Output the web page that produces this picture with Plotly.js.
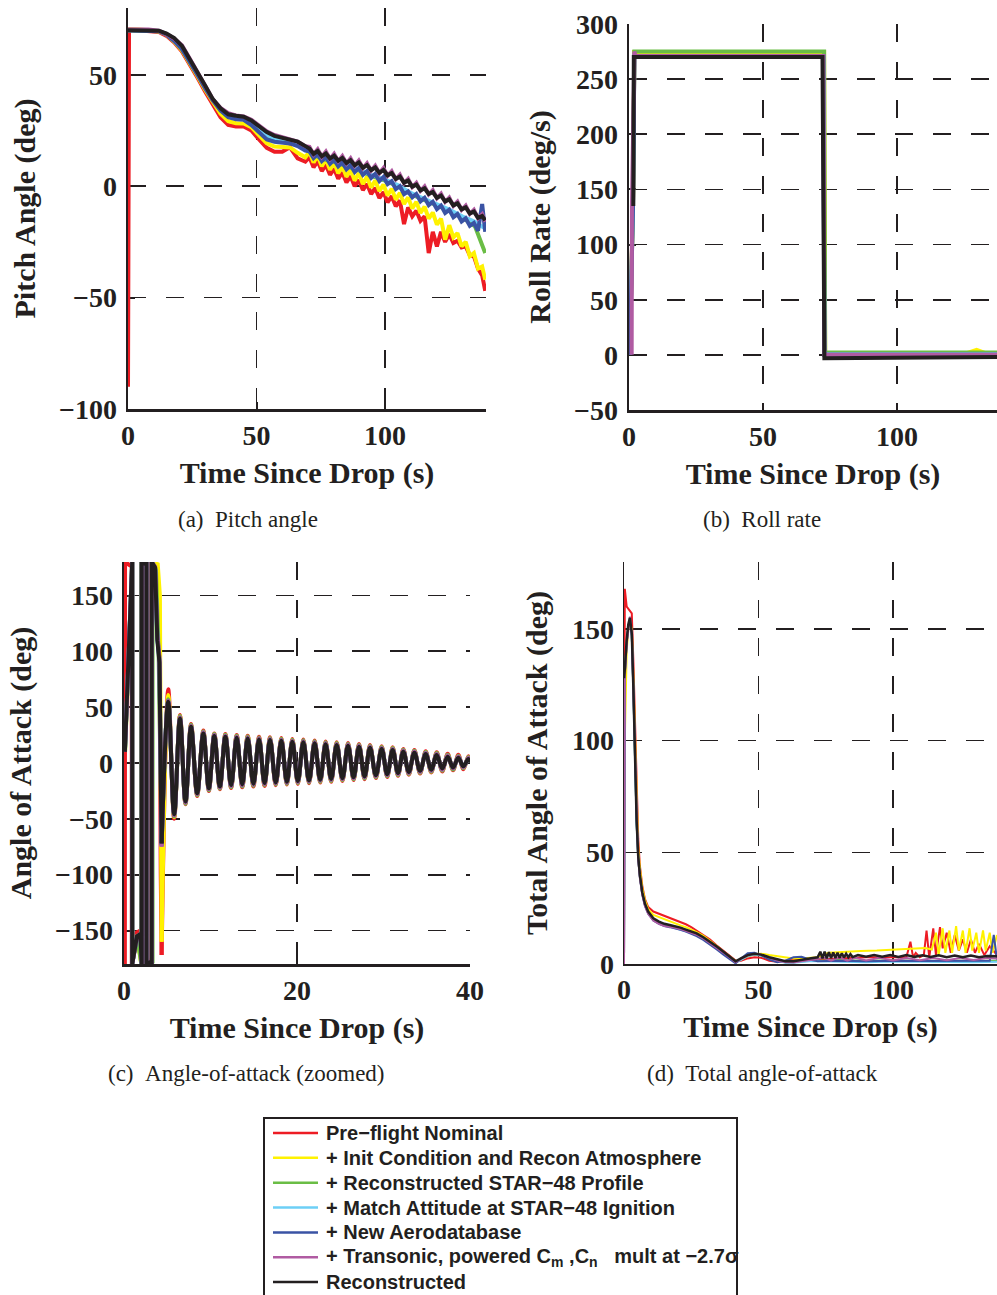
<!DOCTYPE html>
<html><head><meta charset="utf-8">
<script src="https://cdn.plot.ly/plotly-3.0.1.min.js"></script>
<style>html,body{margin:0;padding:0;background:#fff;}#chart{width:997px;height:1295px;}</style>
</head><body><div id="chart"></div>
<script>
// ---------- series names / colours ----------
const seriesNames = [
  'Pre\u2212flight Nominal',
  '+ Init Condition and Recon Atmosphere',
  '+ Reconstructed STAR\u221248 Profile',
  '+ Match Attitude at STAR\u221248 Ignition',
  '+ New Aerodatabase',
  '+ Transonic, powered C<sub>m</sub> ,C<sub>n</sub>\u00a0\u00a0 mult at \u22122.7\u03c3',
  'Reconstructed'
];
const seriesColors = ['#ed1c24', '#fff200', '#6abd45', '#6dcff6', '#3a53a4', '#b05ba2', '#231f20'];

// ---------- (a) pitch angle ----------
const pitchT = [0, 0.4, 4, 8, 12, 15, 18, 21, 24, 27, 30, 33, 36, 39, 42, 45, 48, 51, 54, 57, 60, 63, 66, 69,
  70.6, 72.2, 73.8, 75.4, 77.0, 78.6, 80.2, 81.8, 83.4, 85.0, 86.6, 88.2, 89.8, 91.4, 93.0, 94.6, 96.2, 97.8, 99.4,
  101.0, 102.6, 104.2, 105.8, 107.4, 109.0, 110.6, 112.2, 113.8, 115.4, 117.0, 118.6, 120.2, 121.8, 123.4, 125.0,
  126.6, 128.2, 129.8, 131.4, 133.0, 134.6, 136.2, 137.8, 139.0];
const pitchTSmooth = [0, 0.4, 4, 8, 12, 15, 18, 21, 24, 27, 30, 33, 36, 39, 42, 45, 48, 51, 54, 57, 60, 63, 66, 69,
  75, 80, 85, 90, 95, 100, 105, 110, 115, 120, 125, 130, 135, 139];
const pitchRed = [-90, 70, 70, 69.8, 69.2, 67.5, 64.5, 60.5, 55, 48.8, 42.5, 36.5, 31, 27.5, 26.8, 26.8, 25, 21, 17.2, 15.5, 15.5, 17.5, 12.5, 11,
  13.0, 8.5, 11.3, 6.8, 9.6, 5.1, 7.9, 3.4, 6.2, 1.7, 4.5, 0.0, 2.8, -1.7, 1.0, -3.5, -0.8, -5.3, -2.6, -7.2, -4.5, -9.0,
  -6.4, -17.0, -9.5, -13.5, -11.0, -15.5, -13.5, -30.0, -20.5, -27.0, -20.5, -25.0, -21.5, -25.5, -24.5, -27.5, -27.0,
  -31.0, -31.5, -37.0, -40.0, -47.0];
const pitchYellow = [70.5, 70.5, 70.3, 70, 69.5, 68, 65, 61, 55.5, 49.5, 43.3, 37.5, 32.5, 29.2, 28.3, 28.2, 26.5, 22.8, 19.3, 17.8, 17.5, 17.4, 15, 13,
  15.5, 10.6, 13.8, 9.0, 12.2, 7.4, 10.6, 5.8, 9.0, 4.2, 7.4, 2.6, 5.8, 1.0, 4.2, -0.6, 2.6, -2.2, 0.8, -4.2, -1.1, -6.0,
  -3.0, -8.0, -5.0, -10.0, -7.0, -12.0, -9.2, -14.5, -11.8, -17.2, -14.6, -24.0, -17.5, -23.0, -21.0, -27.0, -25.0,
  -31.5, -30.0, -37.0, -36.0, -42.0];
const pitchGreen = [70, 70, 70, 70, 69.6, 68.1, 65.1, 61.5, 56.2, 50.2, 44, 38.5, 34, 31.2, 30.4, 30.2, 28.2, 25, 22.2, 20.8, 20.2, 19.8, 18.5, 16.5,
  12.5, 11, 9, 7, 4.5, 2.5, 0, -3.5, -6, -8.5, -11, -14, -18, -30];
const pitchCyan = [70, 70, 70, 70, 69.7, 68.2, 65.3, 61.8, 56.5, 50.4, 44.3, 38.8, 34.5, 31.8, 31, 30.8, 28.8, 25.8, 23, 21.6, 20.8, 20.3, 19, 17,
  13, 11.5, 9.5, 7.5, 5, 3, 0.5, -3, -5.5, -8, -10.5, -13.5, -16, -19];
const pitchBlue = [70, 70, 70, 70, 69.6, 68, 65.2, 61.5, 56, 50, 44, 38.5, 34, 31, 30, 29.8, 27.5, 24, 21, 20, 19.5, 19.2, 18, 16,
  15.7, 12.6, 14.4, 11.3, 13.1, 10.1, 11.9, 8.9, 10.7, 7.6, 9.4, 6.4, 8.2, 5.1, 6.8, 3.8, 5.5, 2.3, 4.1, 0.9, 2.2, -1.3,
  0.0, -3.6, -2.4, -5.0, -3.5, -6.8, -5.2, -8.5, -7.0, -10.3, -8.7, -12.0, -10.6, -13.9, -12.5, -15.8, -14.4, -17.8,
  -16.5, -20.0, -8.0, -20.5];
const pitchMagenta = [70.5, 70.5, 70.5, 70.3, 69.8, 68.3, 66.2, 63.3, 57.3, 51, 44.8, 39, 35.2, 32.8, 31.8, 31.3, 29.8, 27.2, 24.6, 23, 22, 21.2, 20, 18,
  17.7, 14.3, 16.6, 13.2, 15.5, 12.2, 14.5, 11.2, 13.5, 10.2, 12.5, 9.2, 11.5, 8.1, 10.3, 7.0, 9.2, 5.8, 8.1, 4.7, 6.7,
  3.1, 5.1, 1.4, 3.3, -0.4, 1.5, -2.1, -0.1, -3.7, -1.8, -5.4, -3.4, -7.0, -5.1, -8.8, -6.9, -10.6, -8.7, -12.4, -10.6,
  -14.4, -12.6, -16.0];
const pitchBlack = [70, 70, 70, 70, 69.8, 68.5, 66.5, 63, 57.4, 51.2, 45.2, 39.1, 35, 32.3, 31.6, 31.2, 29.5, 26.8, 24.3, 22.6, 21.6, 21, 20, 18,
  16.9, 14.5, 15.8, 13.4, 14.7, 12.4, 13.7, 11.4, 12.7, 10.4, 11.7, 9.4, 10.7, 8.3, 9.5, 7.2, 8.4, 6.0, 7.3, 4.9, 5.9,
  3.3, 4.3, 1.6, 2.5, -0.2, 0.7, -1.9, -0.9, -3.5, -2.6, -5.2, -4.2, -6.8, -5.9, -8.6, -7.7, -10.4, -9.5, -12.2, -11.4,
  -14.2, -13.4, -15.3];

// ---------- (b) roll rate ----------
const rollRedT = [0.3, 1.5, 2.0, 72.6, 73.0, 137.3];
const rollRed = [0, 140, 274.5, 274.5, 1.0, 1.0];
const rollYellowT = [0.3, 1.5, 2.0, 72.8, 73.2, 126, 129.7, 133, 137.3];
const rollYellow = [0, 140, 274.5, 274.5, 1.5, 1.5, 4.5, 1.5, 1.5];
const rollGreenT = [0.3, 1.5, 2.0, 72.8, 73.2, 137.3];
const rollGreen = [0, 140, 275, 275, 2.2, 2.2];
const rollCyanT = [0.3, 1.5, 2.0, 72.5, 72.9, 137.3];
const rollCyan = [0, 138, 271, 271, 0.5, 0.5];
const rollBlueT = [0.3, 1.5, 2.0, 72.5, 72.9, 137.3];
const rollBlue = [0, 136, 270.5, 270.5, 0, 0];
const rollMagentaT = [1.0, 1.1, 2.0, 2.4, 72.5, 72.9, 137.3];
const rollMagenta = [0, 135, 275, 271, 271, 0, 0];
const rollBlackT = [1.6, 1.8, 72.2, 72.5, 72.9, 137.3];
const rollBlack = [135, 270, 270, 135, -3, -2];

// ---------- (c) angle of attack (zoomed) ----------
// tumbling phase (wrapping at +/-180)
const aoaEarlyRedT = [0.1, 0.12, 0.5, 0.9, 0.9, 1.4, 1.9, 2.0, 2.0, 2.55, 2.55, 3.1, 3.15, 3.15, 3.8, 4.1, 4.25, 4.35];
const aoaEarlyRed = [-180, 180, 178, 176, -180, -152, -150, -180, 180, 176, -180, -176, -180, 180, 172, 120, -100, -172];
const aoaEarlyYellowT = [0.12, 0.5, 0.95, 0.95, 1.5, 2.0, 2.0, 2.55, 2.6, 2.6, 3.15, 3.2, 3.2, 3.9, 4.15, 4.35];
const aoaEarlyYellow = [10, 100, 180, -180, -155, -180, 180, 178, 180, -180, -178, -180, 180, 178, 150, -160];
const aoaEarlyGreenT = [0.12, 0.5, 0.95, 0.95, 1.5, 2.0, 2.0, 2.55, 2.6, 2.6, 3.3, 3.3, 3.7, 4.0, 4.35];
const aoaEarlyGreen = [10, 96, 180, -180, -154, -180, 180, 178, 180, -180, -178, 180, 172, 100, -74];
const aoaEarlyT = [0.1, 0.5, 0.95, 0.95, 1.5, 1.9, 2.05, 2.05, 2.5, 2.6, 2.6, 3.1, 3.2, 3.2, 3.6, 3.85, 4.1, 4.35];
const aoaEarlyCyan = [10, 96, 180, -180, -155, -153, -180, 180, 178, 180, -180, -178, -180, 180, 175, 112, 92, -73];
const aoaEarlyBlue = [10, 95, 180, -180, -156, -154, -180, 180, 178, 180, -180, -178, -180, 180, 174, 113, 93, -73.5];
const aoaEarlyMagenta = [10, 95, 180, -180, -156, -154, -180, 180, 178, 180, -180, -178, -180, 180, 176, 115, 95, -75];
const aoaEarlyBlack = [10, 96, 180, -180, -155, -153, -180, 180, 178, 180, -180, -178, -180, 180, 175, 110, 90, -72];
// damped oscillation: successive troughs and peaks
const aoaT = [4.35, 5.12, 5.80, 6.47, 7.11, 7.75, 8.46, 9.17, 9.81, 10.44, 11.08, 11.72, 12.38, 13.03, 13.67, 14.30,
  14.96, 15.61, 16.25, 16.88, 17.54, 18.19, 18.83, 19.46, 20.10, 20.73, 21.39, 22.04, 22.68, 23.31, 23.95, 24.59,
  25.25, 25.90, 26.54, 27.17, 27.81, 28.44, 29.12, 29.79, 30.43, 31.06, 31.68, 32.29, 32.93, 33.57, 34.23, 34.88,
  35.52, 36.15, 36.79, 37.42, 38.04, 38.65, 39.23, 39.81, 40.0];
const aoaRed = [-172, 66, -50, 43, -37, 35, -29.5, 29, -25, 26.5, -23.5, 26, -22.3, 25, -21.7, 24.4, -21, 23.6, -20.5, 23,
  -19.9, 22.4, -19.3, 21.5, -18.7, 21, -18.1, 20.1, -17.5, 19.2, -16.8, 18.6, -16.1, 18, -15.3, 17.1, -14.5, 16.2,
  -13.5, 15, -12.5, 14.1, -11.5, 12.6, -10.5, 11.7, -9.5, 10.5, -8.5, 9.6, -7.5, 8.2, -6.5, 7.3, -5.5, 6.1, 1];
const aoaYellow = [-160, 61, -48.5, 42, -36, 34, -28.5, 28, -24, 25.5, -22.5, 25, -21.3, 24, -20.7, 23.4, -20, 22.6, -19.5, 22,
  -18.9, 21.4, -18.3, 20.5, -17.7, 20, -17.1, 19.1, -16.5, 18.2, -15.8, 17.6, -15.1, 17, -14.3, 16.1, -13.5, 15.2,
  -12.5, 14, -11.5, 13.1, -10.5, 11.6, -9.5, 10.7, -8.5, 9.5, -7.5, 8.6, -6.5, 7.2, -5.5, 6.3, -4.5, 5.1, 1];
const aoaGreen = [-74, 57, -48, 42, -36.5, 34.2, -28.8, 28.3, -24.4, 25.9, -22.8, 25.3, -21.6, 24.4, -21, 23.8, -20.3, 22.9,
  -19.8, 22.3, -19.2, 21.7, -18.6, 20.8, -18, 20.3, -17.4, 19.4, -16.8, 18.5, -16.1, 17.9, -15.4, 17.3, -14.6, 16.4,
  -13.8, 15.5, -12.8, 14.3, -11.8, 13.4, -10.8, 11.9, -9.8, 11, -8.8, 9.8, -7.8, 8.9, -6.8, 7.5, -5.8, 6.6, -4.8, 5.4, 1];
const aoaCyan = [-73, 55.3, -46.5, 40.4, -35, 32.9, -27.5, 27, -23.1, 24.6, -21.5, 24, -20.3, 23.1, -19.7, 22.5, -19, 21.6,
  -18.5, 21, -17.9, 20.4, -17.3, 19.5, -16.7, 19, -16.1, 18.1, -15.5, 17.2, -14.8, 16.6, -14.1, 16, -13.3, 15.1, -12.5,
  14.2, -11.5, 13, -10.5, 12.1, -9.5, 10.6, -8.5, 9.7, -7.5, 8.5, -6.5, 7.6, -5.5, 6.2, -4.5, 5.3, -3.5, 4.1, 1];
const aoaBlue = [-73.5, 55.5, -46.8, 40.6, -35.2, 33.1, -27.7, 27.2, -23.3, 24.8, -21.7, 24.2, -20.5, 23.3, -19.9, 22.7, -19.2,
  21.8, -18.7, 21.2, -18.1, 20.6, -17.5, 19.7, -16.9, 19.2, -16.3, 18.3, -15.7, 17.4, -15, 16.8, -14.3, 16.2, -13.5, 15.3,
  -12.7, 14.4, -11.7, 13.2, -10.7, 12.3, -9.7, 10.8, -8.7, 9.9, -7.7, 8.7, -6.7, 7.8, -5.7, 6.4, -4.7, 5.5, -3.7, 4.3, 1];
const aoaMagenta = [-75, 56, -47, 41, -35.5, 33.4, -28, 27.5, -23.6, 25, -22, 24.5, -20.8, 23.6, -20.2, 23, -19.5, 22.1, -19,
  21.5, -18.4, 20.9, -17.8, 20, -17.2, 19.5, -16.6, 18.6, -16, 17.7, -15.3, 17.1, -14.6, 16.5, -13.8, 15.6, -13, 14.7,
  -12, 13.5, -11, 12.6, -10, 11.1, -9, 10.2, -8, 9, -7, 8.1, -6, 6.7, -5, 5.8, -4, 4.6, 1];
const aoaBlack = [-72, 54.8, -46, 39.9, -34.5, 32.4, -27, 26.5, -22.6, 24.1, -21, 23.5, -19.8, 22.6, -19.2, 22, -18.5, 21.1,
  -18, 20.5, -17.4, 19.9, -16.8, 19, -16.2, 18.5, -15.6, 17.6, -15, 16.7, -14.3, 16.1, -13.6, 15.5, -12.8, 14.6, -12,
  13.7, -11, 12.5, -10, 11.6, -9, 10.1, -8, 9.2, -7, 8, -6, 7.1, -5, 5.7, -4, 4.8, -3, 3.6, 1];

// ---------- (d) total angle of attack ----------
const totT = [0, 0.3, 1.0, 1.6, 2.2, 2.9, 3.5, 4.1, 4.7, 5.3, 5.9, 6.8, 7.8, 9.0, 10.9, 13, 15, 17, 19, 21, 23, 25, 27,
  29.5, 32, 34.5, 37, 39.5, 41.5, 43.5, 46, 48.5, 51, 54, 57, 60, 63, 66, 69, 72];
const totRed = [0, 168, 160, 159, 158.5, 157, 135, 108, 78, 56, 44, 35, 29, 25.5, 23.5, 22.5, 21.5, 20.5, 19.6, 18.8, 17.8,
  16.5, 15, 13.2, 11, 8.3, 5.8, 3.2, 1.5, 1.5, 2.5, 3, 2.8, 1.5, 1, 1.5, 2, 2, 2, 2];
const totRedTailT = [80, 90, 100, 105, 106.5, 107.5, 108.5, 110, 111.5, 112.5, 113.5, 115, 116, 117.5, 118.5, 120, 121.5,
  123, 124.5, 126, 127.5, 129, 130.5, 132, 134, 136, 138.7];
const totRedTail = [2.5, 3, 3, 3, 10, 3, 5, 3, 4, 15, 3, 16, 4, 16.5, 7, 14, 5, 13, 6, 11, 5, 11, 5, 9, 4, 8, 4];
const totYellow = [52, 100, 140, 150, 153, 150, 128, 98, 70, 52, 43, 34, 28.5, 24.5, 22, 21, 20, 19, 18, 17.3, 16.5, 15.5,
  14.3, 12.6, 10.5, 8, 5.5, 3, 1.3, 2, 3.5, 4.5, 4.6, 4, 3.5, 2.8, 2.5, 2.5, 2.8, 3];
const totYellowTailT = [76, 82, 88, 94, 100, 106, 112, 114.5, 116, 117, 118.5, 119.5, 121, 122, 123.5, 124.5, 126, 127,
  128.5, 129.5, 131, 132, 133.5, 134.5, 136, 137, 138.7];
const totYellowTail = [5, 5.5, 5.8, 6, 6.3, 6.8, 7.2, 6.5, 14, 4, 16, 5, 15, 5, 17, 6, 15, 5, 16, 6, 14, 5, 15, 6, 14, 5, 13];
const totGreen = [0, 130, 144, 151, 154, 147, 122, 91, 63, 47, 39, 31.5, 26.5, 23, 20, 18.5, 17.5, 17, 16.5, 15.8, 15, 14.2,
  13.3, 11.6, 9.6, 7.4, 5.1, 2.8, 0.8, 2, 3.5, 4.2, 3.8, 2.6, 1.6, 0.8, 0.8, 1.2, 1.5, 1.5];
const totGreenTailT = [80, 90, 100, 110, 120, 130, 138.7];
const totGreenTail = [1.8, 1.4, 1.7, 1.3, 1.6, 1.4, 1.5];
const totCyan = [0, 130, 144, 151, 154, 147, 122, 91, 63, 47, 39, 31.5, 26.5, 23, 20, 18.4, 17.3, 16.8, 16.2, 15.5, 14.7,
  13.9, 13, 11.3, 9.3, 7.1, 4.8, 2.5, 0.6, 1.8, 3.6, 4.4, 3.8, 2.4, 1.4, 0.6, 0.6, 1.0, 1.2, 1.2];
const totCyanTailT = [80, 90, 100, 110, 120, 130, 138.7];
const totCyanTail = [1.0, 0.8, 1.1, 0.9, 1.0, 0.8, 1.0];
const totBlue = [0, 130, 144, 151, 154, 147, 122, 91, 63, 47, 39, 31, 26, 22.5, 19.5, 18, 17, 16.5, 16, 15.3, 14.5, 13.6,
  12.5, 10.8, 8.8, 6.5, 4.2, 1.8, 0.3, 2.5, 4.8, 5, 4, 2, 0.8, 1.5, 3, 3.2, 2, 1.2];
const totBlueTailT = [80, 90, 100, 110, 120, 130, 136, 137.5, 138.7];
const totBlueTail = [1.5, 1.2, 1.5, 1.3, 1.5, 1.4, 1.5, 13, 2];
const totMagenta = [0, 128, 143, 151, 155.5, 148, 122, 90, 62, 46.5, 38.5, 31, 26, 22.5, 19.5, 18, 17, 16.7, 16.2, 15.6,
  14.8, 14, 13.1, 11.4, 9.4, 7.2, 5, 2.7, 0.8, 2.3, 3.8, 4.6, 4.2, 2.8, 1.5, 0.8, 0.7, 1.2, 1.8, 2.2];
const totMagentaTailT = [74, 77, 80, 83, 86, 90, 95, 100, 105, 110, 115, 120, 125, 130, 135, 138.7];
const totMagentaTail = [3, 1.5, 3, 1.5, 2.8, 1.6, 2.8, 1.6, 2.7, 1.7, 2.7, 1.7, 2.7, 1.8, 2.7, 2.5];
const totBlack = [128, 132, 145, 152, 155, 148, 123, 92, 64, 48, 40, 32, 27, 23.5, 20.5, 19, 18, 17.5, 17, 16.3, 15.4, 14.6,
  13.7, 12, 10, 7.8, 5.5, 3.2, 1.2, 2.5, 4, 4.6, 4.2, 3, 2, 1.2, 1.2, 2, 2.5, 3];
const totBlackTailT = [73.0, 73.8, 74.6, 75.4, 76.2, 77.0, 77.8, 78.6, 79.4, 80.2, 81.0, 81.8, 82.6, 83.4, 84.2, 85.0,
  87, 90, 93, 96, 99, 102, 105, 108, 111, 114, 117, 120, 123, 126, 129, 132, 135, 138.7];
const totBlackTail = [5.5, 2.5, 5.5, 2.5, 5.3, 2.6, 5.2, 2.7, 5.0, 2.8, 4.8, 2.9, 4.6, 3.0, 4.4, 3.1, 4.0, 3.3, 4.0, 3.3,
  4.0, 3.2, 4.0, 3.2, 3.9, 3.1, 3.9, 3.0, 3.8, 3.0, 3.8, 3.0, 3.6, 3.5];

// ---------- axis labels and captions ----------
const xTitle = 'Time Since Drop (s)';
const yTitles = ['Pitch Angle (deg)', 'Roll Rate (deg/s)', 'Angle of Attack (deg)', 'Total Angle of Attack (deg)'];
const captions = ['(a)\u00a0\u00a0Pitch angle', '(b)\u00a0\u00a0Roll rate', '(c)\u00a0\u00a0Angle-of-attack (zoomed)', '(d)\u00a0\u00a0Total angle-of-attack'];

// ---------- build ----------
const INK = '#231f20';
const SERIF = 'Liberation Serif, Times New Roman, serif';
const SANS = 'Liberation Sans, Arial, sans-serif';
const W = 997, H = 1295;
const fx = p => p / W, fy = p => 1 - p / H;

const traces = [];
function add(x, y, ax, i, width, shape) {
  traces.push({
    x: x, y: y, xaxis: 'x' + ax, yaxis: 'y' + ax, type: 'scatter', mode: 'lines',
    name: seriesNames[i], showlegend: false,
    line: {color: seriesColors[i], width: width, shape: shape || 'linear'},
    hoverinfo: 'skip'
  });
}
// (a)
const pitchY = [pitchRed, pitchYellow, pitchGreen, pitchCyan, pitchBlue, pitchMagenta, pitchBlack];
const pitchX = [pitchT, pitchT, pitchTSmooth, pitchTSmooth, pitchT, pitchT, pitchT];
pitchY.forEach((y, i) => add(pitchX[i], y, '', i, 4));
// (b)
const rollX = [rollRedT, rollYellowT, rollGreenT, rollCyanT, rollBlueT, rollMagentaT, rollBlackT];
const rollY = [rollRed, rollYellow, rollGreen, rollCyan, rollBlue, rollMagenta, rollBlack];
rollY.forEach((y, i) => add(rollX[i], y, '2', i, 4));
// (c)
const earlyX = [aoaEarlyRedT, aoaEarlyYellowT, aoaEarlyGreenT, aoaEarlyT, aoaEarlyT, aoaEarlyT, aoaEarlyT];
const earlyY = [aoaEarlyRed, aoaEarlyYellow, aoaEarlyGreen, aoaEarlyCyan, aoaEarlyBlue, aoaEarlyMagenta, aoaEarlyBlack];
const oscY = [aoaRed, aoaYellow, aoaGreen, aoaCyan, aoaBlue, aoaMagenta, aoaBlack];
for (let i = 0; i < 7; i++) {
  add(earlyX[i], earlyY[i], '3', i, 4);
  add(aoaT, oscY[i], '3', i, 4, 'spline');
}
// (d)
const totHead = [totRed, totYellow, totGreen, totCyan, totBlue, totMagenta, totBlack];
const totTailX = [totRedTailT, totYellowTailT, totGreenTailT, totCyanTailT, totBlueTailT, totMagentaTailT, totBlackTailT];
const totTailY = [totRedTail, totYellowTail, totGreenTail, totCyanTail, totBlueTail, totMagentaTail, totBlackTail];
for (let i = 0; i < 7; i++) {
  add(totT.concat(totTailX[i]), totHead[i].concat(totTailY[i]), '4', i, i === 6 ? 2.5 : 2);
}

const axisBase = {
  showline: true, linecolor: INK, linewidth: 2.5, mirror: false,
  ticks: 'inside', ticklen: 7, tickwidth: 2, tickcolor: INK,
  showgrid: true, gridcolor: INK, gridwidth: 1.7, griddash: '18px,20px',
  zeroline: false, layer: 'below traces', fixedrange: true, tick0: 0, dtick: 50,
  tickfont: {family: SERIF, size: 28, weight: 'bold', color: INK}
};
const thinAxis = {linewidth: 1.5, tickwidth: 1.5, gridwidth: 1.2};
const titleFont = {family: SERIF, size: 30, weight: 'bold', color: INK};
function xax(d0, d1, r, dt, anchor, extra) {
  return Object.assign({}, axisBase, {domain: [fx(d0), fx(d1)], range: r, dtick: dt, anchor: anchor,
    ticklabelstandoff: 0, title: {text: xTitle, font: titleFont, standoff: 12}}, extra || {});
}
function yax(top, bottom, r, anchor, t, extra) {
  return Object.assign({}, axisBase, {domain: [fy(bottom), fy(top)], range: r, anchor: anchor,
    ticklabelstandoff: 3, title: {text: t, font: titleFont, standoff: 15}}, extra || {});
}

// ---------- hand-drawn legend (box, sample lines, labels) in page pixels ----------
const legendBox = {left: 264, top: 1118, right: 737, bottom: 1302};
const legendRow0 = 1133, legendRowStep = 24.85, legendLineX = [273, 318], legendTextX = 324;
const shapes = [{
  type: 'rect', xref: 'paper', yref: 'paper', x0: fx(legendBox.left), x1: fx(legendBox.right),
  y0: fy(legendBox.bottom), y1: fy(legendBox.top), fillcolor: '#ffffff', line: {color: INK, width: 2}, layer: 'above'
}];
const annotations = [];
seriesNames.forEach((nm, i) => {
  const yy = fy(legendRow0 + i * legendRowStep);
  shapes.push({type: 'line', xref: 'paper', yref: 'paper', x0: fx(legendLineX[0]), x1: fx(legendLineX[1]),
    y0: yy, y1: yy, line: {color: seriesColors[i], width: 2.5}, layer: 'above'});
  annotations.push({text: nm, xref: 'paper', yref: 'paper', x: fx(legendTextX), y: yy, xanchor: 'left',
    yanchor: 'middle', showarrow: false, font: {family: SANS, size: 20, weight: 'bold', color: INK}});
});
[[248, 519], [762, 519], [246, 1073], [762, 1073]].forEach((p, i) => annotations.push({
  text: captions[i], xref: 'paper', yref: 'paper', x: fx(p[0]), y: fy(p[1]),
  xanchor: 'center', yanchor: 'middle', showarrow: false,
  font: {family: SERIF, size: 23, color: INK}
}));

const layout = {
  width: W, height: H, margin: {l: 0, r: 0, t: 0, b: 0, autoexpand: false},
  paper_bgcolor: '#ffffff', plot_bgcolor: '#ffffff', showlegend: false,
  xaxis: xax(128, 486, [0, 139.3], 50, 'y'),
  yaxis: yax(8, 409, [-100, 80], 'x', yTitles[0]),
  xaxis2: xax(629, 997, [0, 137.3], 50, 'y2'),
  yaxis2: yax(24, 410, [-50, 300], 'x2', yTitles[1]),
  xaxis3: xax(124, 470, [0, 40], 20, 'y3'),
  yaxis3: yax(562, 964, [-180, 180], 'x3', yTitles[2]),
  xaxis4: xax(624, 997, [0, 138.7], 50, 'y4', thinAxis),
  yaxis4: yax(562, 964, [0, 180], 'x4', yTitles[3], thinAxis),
  shapes: shapes,
  annotations: annotations
};

Plotly.newPlot('chart', traces, layout, {displayModeBar: false, staticPlot: true});

// sanity check of array lengths
const checks = [];
pitchY.forEach((y, i) => checks.push(['pitch' + i, pitchX[i], y]));
rollY.forEach((y, i) => checks.push(['roll' + i, rollX[i], y]));
earlyY.forEach((y, i) => checks.push(['early' + i, earlyX[i], y]));
oscY.forEach((y, i) => checks.push(['osc' + i, aoaT, y]));
totHead.forEach((y, i) => checks.push(['totHead' + i, totT, y]));
totTailY.forEach((y, i) => checks.push(['totTail' + i, totTailX[i], y]));
const bad = checks.filter(c => c[1].length !== c[2].length).map(c => c[0] + ':' + c[1].length + '/' + c[2].length);
if (bad.length) throw new Error('Length mismatch: ' + bad.join(', '));
</script></body></html>
